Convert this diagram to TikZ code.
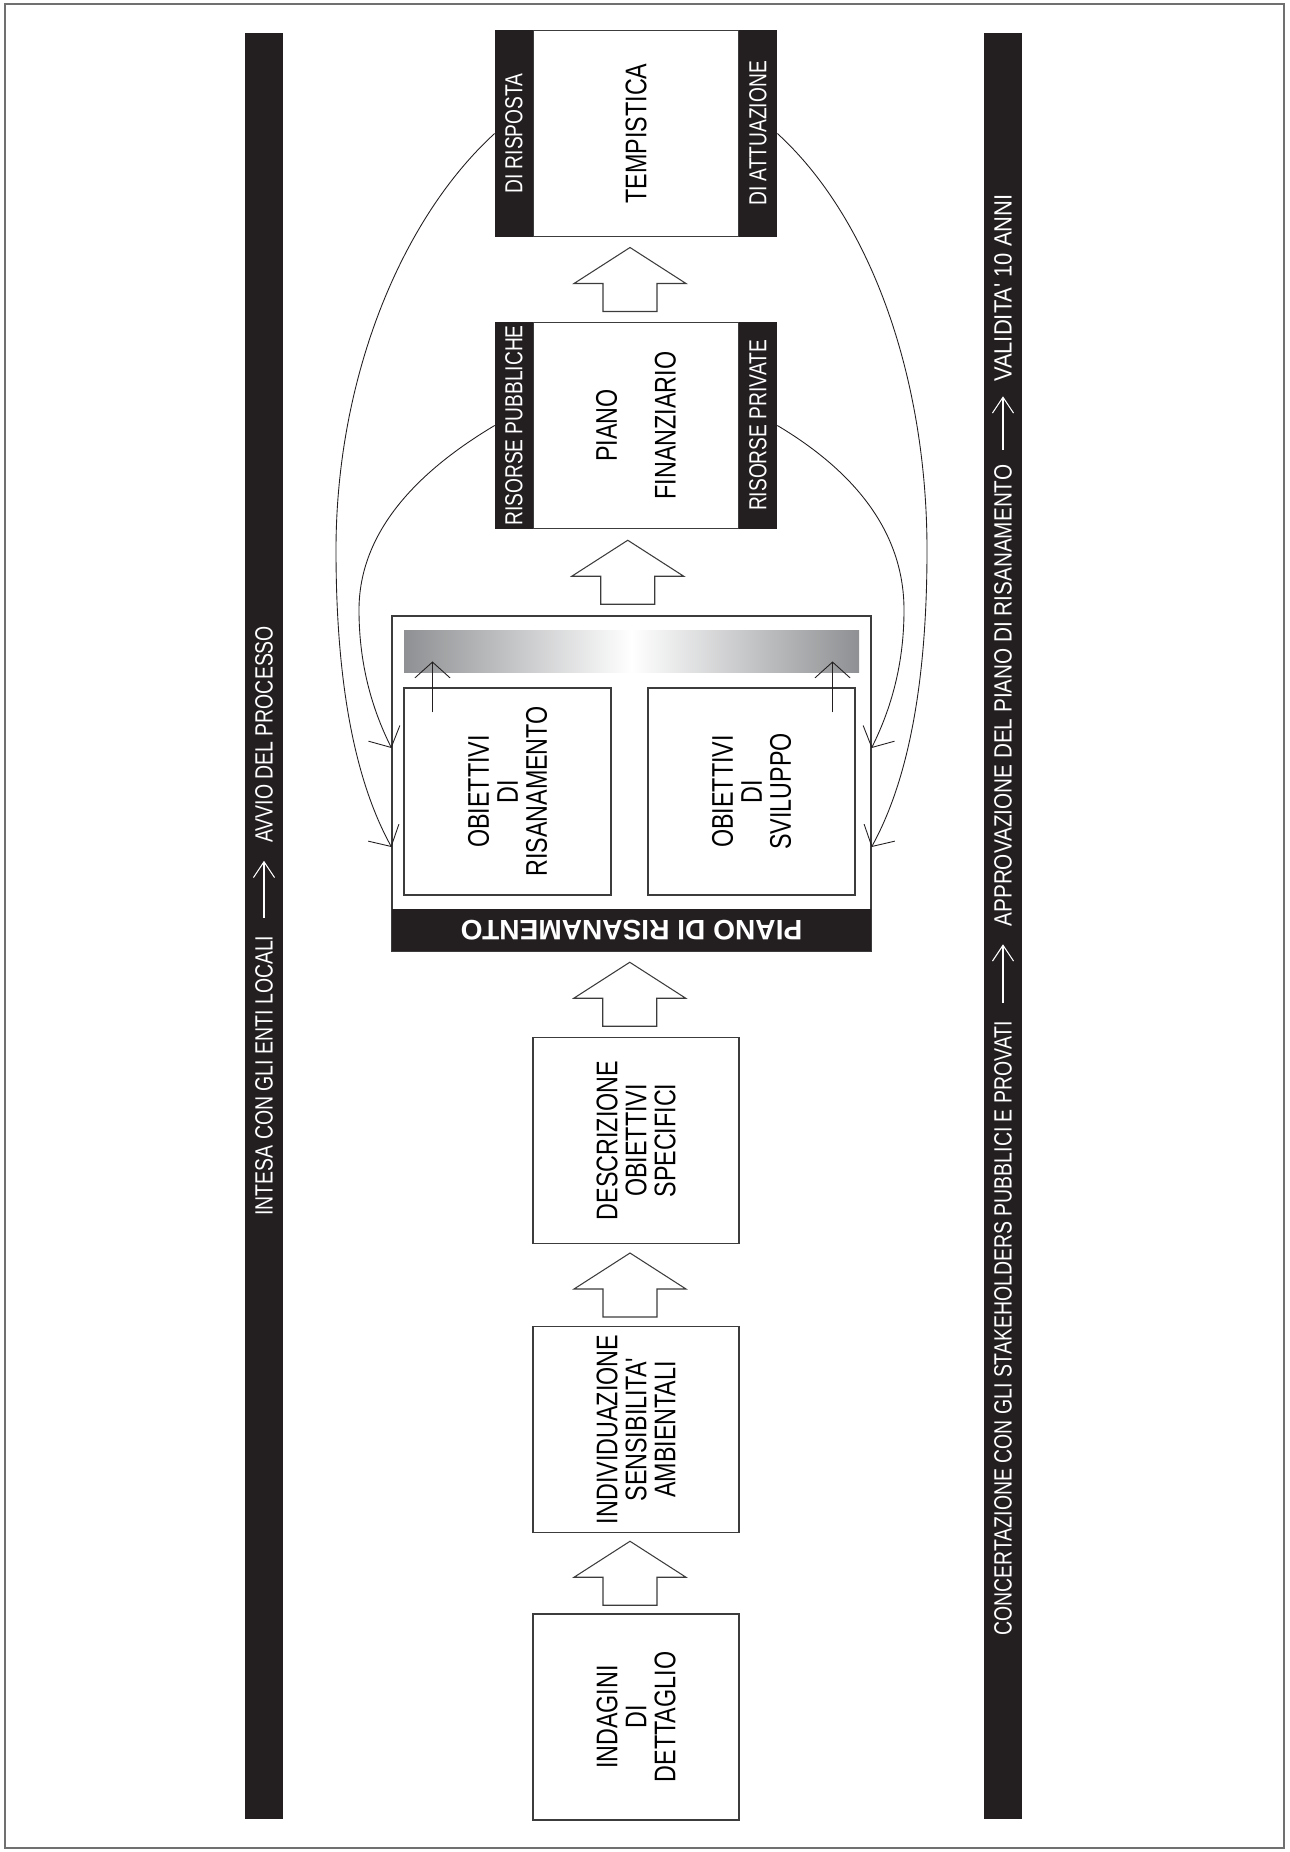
\documentclass[tikz,border=0pt]{standalone}
\usepackage{fontspec}
\setmainfont{Liberation Sans}
\newfontfamily\narrowfont[FakeStretch=0.78]{Liberation Sans}
\newfontfamily\semifont[FakeStretch=0.83]{Liberation Sans}
\newfontfamily\widerfont[FakeStretch=0.88]{Liberation Sans}
\usetikzlibrary{arrows.meta,calc,positioning}
\definecolor{PRBlack}{HTML}{231F20}
\definecolor{PRLine}{HTML}{3C3C3C}
\definecolor{PRGrey}{HTML}{8E9093}
\definecolor{PRFrame}{HTML}{707070}
\newcommand{\pxu}{0.02cm}
\newcommand{\boxfont}{\narrowfont\fontsize{17}{16.5}\selectfont}
\newcommand{\bandfont}{\narrowfont\fontsize{14}{16}\selectfont}
\newcommand{\barfont}{\narrowfont\fontsize{14.2}{16}\selectfont}
\tikzset{
  stagebox/.style={draw=PRLine,line width=.6pt,fill=white,rotate=90,inner sep=0pt,
    minimum width=206*\pxu,minimum height=206*\pxu,align=center,font=\boxfont},
  sideband/.style={fill=PRBlack,text=white,rotate=90,inner sep=0pt,
    minimum width=207*\pxu,minimum height=38*\pxu,font=\bandfont},
  bartext/.style={text=white,rotate=90,inner sep=0pt,anchor=west,font=\barfont},
  barrow/.style={draw=white,line width=.6pt,-{Straight Barb[length=9pt,width=12pt]},
    shorten <=10pt,shorten >=10pt},
  feedback/.style={draw=PRBlack,line width=.5pt,-{Straight Barb[length=9pt,width=20pt]}},
  uparrow/.pic={\draw[PRLine,line width=.6pt,fill=white] (0,-32) -- (56,4) -- (27,4)
    -- (27,32) -- (-27,32) -- (-27,4) -- (-56,4) -- cycle;}
}
\begin{document}
\begin{tikzpicture}[x=\pxu,y=-\pxu]
\path[use as bounding box] (0,0) rectangle (1289,1852);
\draw[PRFrame,line width=1.2pt] (5,4) rectangle (1284,1848);
% side bars
\fill[PRBlack] (245,33) rectangle (283,1819);
\fill[PRBlack] (984,33) rectangle (1022,1819);
\node[bartext] (intesa) at (264,1216) {INTESA CON GLI ENTI LOCALI};
\node[bartext] (avvio) at ([yshift=92*\pxu]intesa.east) {AVVIO DEL PROCESSO};
\draw[barrow] (intesa.east) -- (avvio.west);
\node[bartext] (concert) at (1003,1636) {CONCERTAZIONE CON GLI STAKEHOLDERS PUBBLICI E PROVATI};
\node[bartext,font=\semifont\fontsize{14.2}{16}\selectfont] (approv) at ([yshift=94*\pxu]concert.east) {APPROVAZIONE DEL PIANO DI RISANAMENTO};
\node[bartext,font=\widerfont\fontsize{14.2}{16}\selectfont] (valid) at ([yshift=82*\pxu]approv.east) {VALIDITA' 10 ANNI};
\draw[barrow] (concert.east) -- (approv.west);
\draw[barrow,shorten <=8pt,shorten >=8pt] (approv.east) -- (valid.west);
% tempistica
\node[stagebox] (temp) at (636,133.5) {TEMPISTICA};
\node[sideband] (risposta) at (514,133.5) {DI RISPOSTA};
\node[sideband] (attuazione) at (758,133.5) {DI ATTUAZIONE};
% piano finanziario
\node[stagebox] (pfin) at (636,425.5) {PIANO\\[17pt]FINANZIARIO};
\node[sideband] (pubbliche) at (514,425.5) {RISORSE PUBBLICHE};
\node[sideband] (private) at (758,425.5) {RISORSE PRIVATE};
% piano di risanamento
\node[draw=PRLine,line width=.6pt,minimum width=479*\pxu,minimum height=335*\pxu,inner sep=0pt] (pdr) at (631.5,783.5) {};
\node[shade,left color=PRGrey,right color=PRGrey,middle color=white,
  minimum width=455*\pxu,minimum height=42*\pxu,inner sep=0pt] (grad) at (631.5,651) {};
\node[stagebox,minimum width=207*\pxu,minimum height=207*\pxu] (obris) at (507.5,791.5) {OBIETTIVI\\DI\\RISANAMENTO};
\node[stagebox,minimum width=207*\pxu,minimum height=207*\pxu] (obsvil) at (751.5,791.5) {OBIETTIVI\\DI\\SVILUPPO};
\node[fill=PRBlack,text=white,rotate=180,minimum width=479*\pxu,minimum height=42*\pxu,inner sep=0pt,
  font=\bfseries\fontsize{16}{18}\selectfont] (pdrband) at (631.5,930) {PIANO DI RISANAMENTO};
\draw[feedback] ($(obris.north east)+(29,25)$) -- ++(0,-51);
\draw[feedback] ($(obsvil.south east)+(-23,25)$) -- ++(0,-51);
% lower stages
\node[stagebox] (descr) at (636,1140.5) {DESCRIZIONE\\OBIETTIVI\\SPECIFICI};
\node[stagebox] (indiv) at (636,1429.5) {INDIVIDUAZIONE\\SENSIBILITA'\\AMBIENTALI};
\node[stagebox] (indag) at (636,1717) {INDAGINI\\DI\\DETTAGLIO};
% block arrows
\pic at ($(temp.west)!.5!(pfin.east)+(-6,0)$) {uparrow};
\pic at ($(pfin.west)!.5!(pdr.north)+(-6,0)$) {uparrow};
\pic at ($(pdr.south)!.5!(descr.east)+(-4,0)$) {uparrow};
\pic at ($(descr.west)!.5!(indiv.east)+(-6,0)$) {uparrow};
\pic at ($(indiv.west)!.5!(indag.east)+(-6,0)$) {uparrow};
% feedback curves
\coordinate (inL1) at ($(pdr.west)+(0,-35.5)$);
\coordinate (inL2) at ($(pdr.west)+(0,63.5)$);
\coordinate (inR1) at ($(pdr.east)+(0,-35.5)$);
\coordinate (inR2) at ($(pdr.east)+(0,63.5)$);
\draw[feedback] (risposta.north) .. controls (400,220) and (336,380) .. (336,550)
  .. controls (336,700) and (360,790) .. (inL2);
\draw[feedback] (pubbliche.north) .. controls (420,470) and (359,530) .. (359,610)
  .. controls (359,670) and (375,715) .. (inL1);
\draw[feedback] (attuazione.south) .. controls (872,220) and (927,380) .. (927,550)
  .. controls (927,700) and (903,790) .. (inR2);
\draw[feedback] (private.south) .. controls (852,470) and (904,530) .. (904,610)
  .. controls (904,670) and (888,715) .. (inR1);
\end{tikzpicture}
\end{document}
